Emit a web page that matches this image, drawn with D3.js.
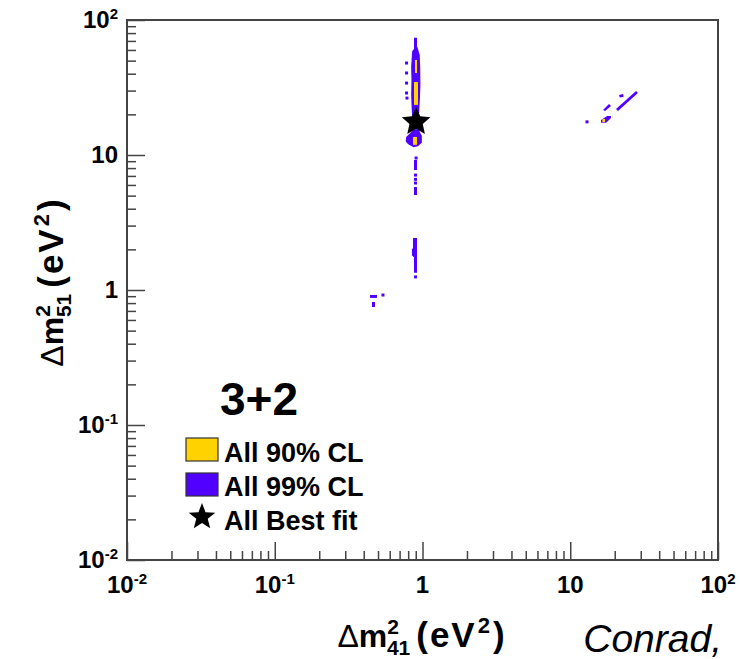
<!DOCTYPE html>
<html><head><meta charset="utf-8">
<script src="https://cdn.jsdelivr.net/npm/d3@7"></script>
<style>body{margin:0;background:#fff}svg{display:block}text{font-family:"Liberation Sans",Arial,sans-serif}</style>
</head><body><svg id="c" width="740" height="659"></svg>
<script>
// ---- data (Δm²41, Δm²51 in eV²) ----
const majorTicks = [0.01, 0.1, 1, 10, 100];
const tickBase = ["10", "10", "1", "10", "10"];
const tickExp = ["-2", "-1", "", "", "2"];
const cl99Regions = [
  [[0.876,74],[0.876,61],[0.852,59],[0.845,52],[0.838,45],[0.842,36],[0.838,28],[0.845,22],[0.862,15.5],[0.935,15.5],[0.950,21],[0.962,27],[0.968,33],[0.965,45],[0.958,55],[0.932,61],[0.918,64],[0.918,74]],
  [[0.775,13.6],[0.83,14.6],[0.87,15.5],[0.94,15.5],[0.99,13.8],[0.99,12.3],[0.93,11.6],[0.87,11.4],[0.80,12.0],[0.77,12.6]],
  [[0.876,9.18],[0.918,9.18],[0.918,7.74],[0.876,7.74]],
  [[0.876,5.8],[0.918,5.8],[0.918,5.05],[0.876,5.05]],
  [[0.876,2.43],[0.918,2.43],[0.918,1.34],[0.876,1.34],[0.876,1.75],[0.849,1.8],[0.849,2.0],[0.862,2.05],[0.862,2.43]],
  [[20.4,21.9],[27.9,29.8],[28.7,28.8],[21.05,21.2]],
  [[21.4,27.8],[22.8,28.3],[23.0,27.0],[21.6,26.7]],
  [[16.67,21.5],[18.3,23.9],[18.87,23.1],[17.2,21.2]],
  [[16.15,17.3],[16.15,18.2],[17.74,19.45],[18.87,19.45],[18.87,18.8],[17.5,17.3]],
  [[0.441,0.918],[0.492,0.918],[0.492,0.873],[0.441,0.873]],
  [[0.455,0.815],[0.477,0.815],[0.477,0.748],[0.455,0.748]]
];
const cl90Regions = [
  [[0.890,50.6],[0.918,50.6],[0.918,40.5],[0.890,40.5]],
  [[0.876,34.7],[0.932,34.7],[0.932,23.5],[0.876,23.5]],
  [[0.862,13.6],[0.918,13.6],[0.918,11.9],[0.862,11.9]],
  [[16.5,18.5],[17.2,18.5],[17.2,17.5],[16.5,17.5]]
];
const cl99Dots = [[0.78,48.0],[0.78,40.5],[0.78,34.1],[0.78,28.8],[0.785,26.4],[0.905,9.5],[0.897,7.1],[0.897,6.6],[0.897,6.2],[0.897,1.25],[12.98,17.6],[0.540,0.918]];
const bestFit = [0.905, 17.6];
const legendLabels = ["All 90% CL", "All 99% CL", "All Best fit"];
const colors = {cl90: "#ffd200", cl99: "#5000ff", frame: "#444"};

const svg = d3.select("#c");
const L = 127, R = 718, T = 20, B = 560;
const x = d3.scaleLog().domain([0.01, 100]).range([L, R]);
const y = d3.scaleLog().domain([0.01, 100]).range([B, T]);
const minorTicks = [];
majorTicks.slice(0, -1).forEach(d => { for (let k = 2; k <= 9; k++) minorTicks.push(d * k); });

const line = d3.line().x(d => x(d[0])).y(d => y(d[1])).curve(d3.curveLinearClosed);
const plot = svg.append("g");
plot.selectAll("path.c99").data(cl99Regions).join("path").attr("class", "c99").attr("d", line).attr("fill", colors.cl99);
plot.selectAll("rect.dot").data(cl99Dots).join("rect").attr("class", "dot")
  .attr("x", d => x(d[0]) - 1.5).attr("y", d => y(d[1]) - 1.5).attr("width", 3).attr("height", 3).attr("fill", colors.cl99);
plot.selectAll("path.c90").data(cl90Regions).join("path").attr("class", "c90").attr("d", line).attr("fill", colors.cl90);

function starPath(ro, ri) {
  const pts = [];
  for (let i = 0; i < 10; i++) {
    const a = -Math.PI / 2 + i * Math.PI / 5;
    const r = i % 2 ? ri : ro;
    pts.push([r * Math.cos(a), r * Math.sin(a)]);
  }
  return "M" + pts.map(p => p.join(",")).join("L") + "Z";
}
plot.append("path").attr("d", starPath(15, 7)).attr("transform", `translate(${x(bestFit[0])},${y(bestFit[1])})`).attr("fill", "#000");

// frame
svg.append("rect").attr("x", L).attr("y", T).attr("width", R - L).attr("height", B - T)
  .attr("fill", "none").attr("stroke", colors.frame).attr("stroke-width", 2);

function styleAxis(g) { g.select(".domain").remove(); g.selectAll("line").attr("stroke", colors.frame).attr("stroke-width", 1.5); }
svg.append("g").attr("transform", `translate(0,${B})`).call(d3.axisBottom(x).tickValues(majorTicks).tickSize(-18).tickFormat("")).call(styleAxis);
svg.append("g").attr("transform", `translate(0,${B})`).call(d3.axisBottom(x).tickValues(minorTicks).tickSize(-9).tickFormat("")).call(styleAxis);
svg.append("g").attr("transform", `translate(${L},0)`).call(d3.axisLeft(y).tickValues(majorTicks).tickSize(-18).tickFormat("")).call(styleAxis);
svg.append("g").attr("transform", `translate(${L},0)`).call(d3.axisLeft(y).tickValues(minorTicks).tickSize(-9).tickFormat("")).call(styleAxis);

function label(g, i) {
  g.append("tspan").text(tickBase[i]);
  if (tickExp[i]) g.append("tspan").attr("font-size", 15).attr("dy", -9).text(tickExp[i]);
}
majorTicks.forEach((v, i) => {
  const tx = svg.append("text").attr("x", x(v)).attr("y", 593).attr("text-anchor", "middle")
    .attr("font-size", 24).attr("font-weight", "bold");
  label(tx, i);
  const ty = svg.append("text").attr("x", 118).attr("y", y(v) + 8).attr("text-anchor", "end")
    .attr("font-size", 24).attr("font-weight", "bold");
  label(ty, i);
});

// axis titles
function title(g, sub) {
  g.append("tspan").attr("font-weight", "normal").text("Δ");
  g.append("tspan").text("m");
  g.append("tspan").attr("font-size", 21).attr("dy", -13).text("2");
  g.append("tspan").attr("font-size", 21).attr("dx", -12).attr("dy", 21).text(sub);
  g.append("tspan").attr("dy", -8).attr("dx", 6).attr("font-size", 35).attr("letter-spacing", 2).text("(eV");
  g.append("tspan").attr("font-size", 22).attr("dy", -14).attr("dx", 1).text("2");
  g.append("tspan").attr("dy", 14).attr("dx", 3).attr("font-size", 35).text(")");
}
const xt = svg.append("text").attr("x", 421).attr("y", 647).attr("text-anchor", "middle").attr("font-size", 32).attr("font-weight", "bold");
title(xt, "41");
const yt = svg.append("text").attr("transform", "translate(63,283) rotate(-90)").attr("text-anchor", "middle").attr("font-size", 32).attr("font-weight", "bold");
title(yt, "51");

svg.append("text").attr("x", 722).attr("y", 652).attr("text-anchor", "end").attr("font-size", 39).attr("font-style", "italic").text("Conrad,");

// label & legend
svg.append("text").attr("x", 220).attr("y", 415).attr("font-size", 46).attr("font-weight", "bold").text("3+2");
const lg = svg.append("g");
[colors.cl90, colors.cl99].forEach((c, i) => {
  lg.append("rect").attr("x", 186).attr("y", 438 + i * 35).attr("width", 32).attr("height", 23)
    .attr("fill", c).attr("stroke", "#333").attr("stroke-width", 1.2);
});
lg.append("path").attr("d", starPath(14, 6)).attr("transform", "translate(202,517)").attr("fill", "#000");
legendLabels.forEach((t, i) => {
  lg.append("text").attr("x", 224).attr("y", 462 + i * 34).attr("font-size", 27).attr("font-weight", "bold").text(t);
});
</script></body></html>
